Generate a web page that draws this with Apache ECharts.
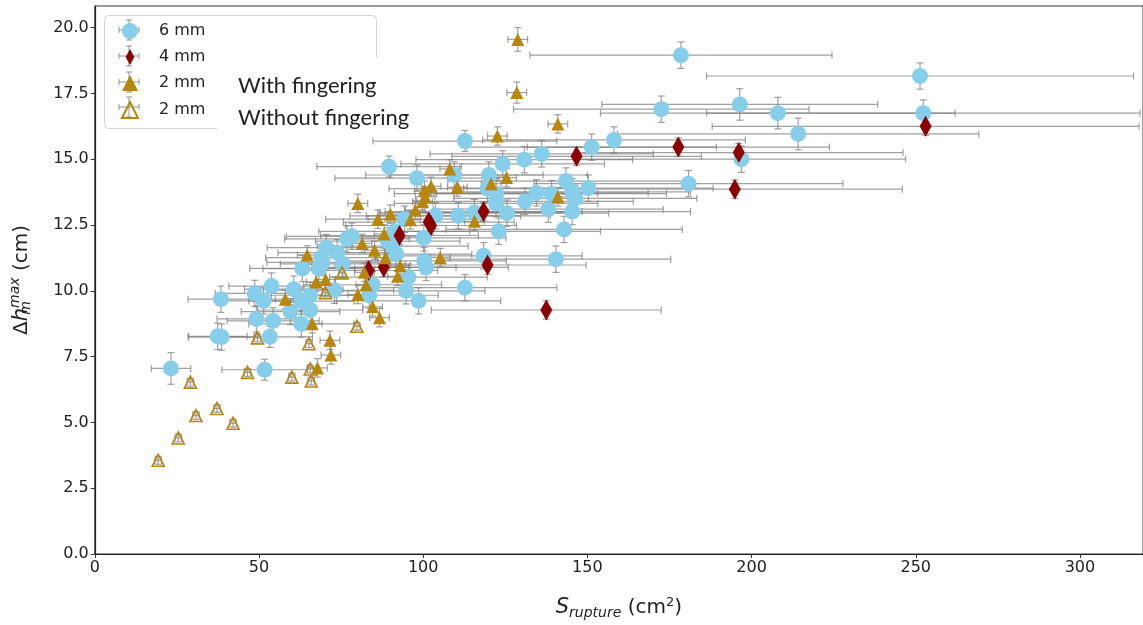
<!DOCTYPE html>
<html><head><meta charset="utf-8">
<script src="https://cdn.jsdelivr.net/npm/echarts@6/dist/echarts.min.js"></script>
<style>html,body{margin:0;padding:0;background:#fff}#c{width:1143px;height:625px}</style>
</head><body><div id="c"></div>
<script>
// 6 mm (blue circles)
const blueX = [23.2,51.7,37.4,38.6,53.3,49.2,54.3,62.9,59.6,65.6,38.4,51.4,48.7,62.9,60.6,65.6,53.8,73.0,63.2,68.2,69.4,69.0,75.5,73.8,70.5,76.8,78.3,83.6,84.6,89.2,90.7,91.8,91.2,94.3,100.2,100.3,100.9,95.5,94.8,98.6,103.7,110.7,115.6,112.7,118.4,123.0,125.5,122.2,122.2,119.6,89.6,98.1,109.5,120.0,124.2,130.8,136.1,112.7,131.0,134.5,139.1,138.1,145.4,145.4,146.3,143.5,150.3,142.9,140.4,151.3,158.1,172.5,178.5,180.8,196.4,196.9,208.0,214.2,251.3,252.3];
const blueY = [7.05,7.0,8.27,8.24,8.25,8.93,8.86,8.74,9.21,9.27,9.68,9.62,9.9,9.61,10.06,9.83,10.18,10.02,10.85,10.84,11.08,11.26,11.02,11.45,11.64,11.97,12.07,9.83,10.23,11.89,11.7,11.39,12.26,12.72,12.01,11.14,10.89,10.52,10.0,9.62,12.85,12.85,12.97,10.12,11.33,12.26,12.95,13.32,13.69,13.88,14.72,14.28,14.4,14.4,14.82,14.98,15.2,15.69,13.4,13.72,13.69,13.1,13.01,13.76,13.51,14.17,13.9,12.33,11.2,15.46,15.73,16.9,18.95,14.07,17.08,15.0,16.75,15.96,18.16,16.75];
const blueXErr = [6,13,9,10,13,12,14,16,15,16,10,13,12,16,15,16,13,18,16,17,17,17,19,18,18,19,20,21,21,22,23,23,23,24,25,25,25,24,24,25,26,28,29,28,30,31,31,31,31,30,22,25,27,30,31,33,34,28,33,34,35,35,36,36,37,36,38,36,35,38,40,45,46,47,42,50,54,55,65,66];
const blueYErr = [0.6,0.4,0.5,0.5,0.4,0.5,0.5,0.5,0.5,0.5,0.5,0.5,0.5,0.5,0.5,0.5,0.5,0.5,0.5,0.5,0.5,0.5,0.5,0.5,0.5,0.5,0.5,0.5,0.5,0.5,0.5,0.5,0.5,0.5,0.5,0.5,0.5,0.5,0.5,0.5,0.5,0.5,0.5,0.5,0.5,0.5,0.5,0.5,0.5,0.5,0.4,0.5,0.5,0.5,0.5,0.5,0.5,0.4,0.5,0.5,0.5,0.5,0.5,0.5,0.5,0.5,0.5,0.5,0.5,0.5,0.5,0.5,0.5,0.5,0.6,0.5,0.6,0.6,0.5,0.5];
// 4 mm (dark red diamonds)
const redX = [83.4,88.0,92.8,101.7,102.4,118.4,119.6,137.5,146.7,177.7,196.1,194.9,253.0];
const redY = [10.77,10.89,12.1,12.61,12.48,13.01,10.98,9.27,15.11,15.46,15.25,13.86,16.25];
const redXErr = [21,22,24,26,26,30,30,35,38,46,50,51,65];
const redYErr = [0.35,0.35,0.35,0.35,0.35,0.35,0.35,0.35,0.35,0.35,0.35,0.35,0.35];
// 2 mm with fingering (filled gold triangles)
const goldX = [128.8,128.5,141.0,122.6,108.1,125.4,120.7,110.4,141.0,102.4,100.4,100.6,99.8,97.6,96.1,90.0,86.2,88.1,115.6,80.1,81.4,85.2,88.5,105.2,82.1,93.0,92.2,82.6,80.1,84.6,86.7,64.7,67.4,70.3,58.0,66.2,71.6,71.9,67.8];
const goldY = [19.55,17.53,16.34,15.88,14.63,14.3,14.07,13.94,13.57,13.97,13.82,13.57,13.38,13.07,12.7,12.91,12.72,12.16,12.64,13.32,11.8,11.54,11.26,11.26,10.7,10.95,10.55,10.23,9.86,9.39,8.98,11.36,10.33,10.43,9.68,8.75,8.12,7.56,7.07];
const goldXErr = [3,3,3,3,3,3,3,3,3,3,3,3,3,3,3,3,3,3,3,3,3,3,3,3,3,3,3,3,3,3,3,3,3,3,3,3,3,3,3];
const goldYErr = [0.45,0.4,0.35,0.35,0.35,0.35,0.35,0.35,0.35,0.35,0.35,0.35,0.35,0.35,0.35,0.35,0.35,0.35,0.35,0.35,0.35,0.35,0.35,0.35,0.35,0.35,0.35,0.35,0.35,0.35,0.35,0.35,0.35,0.35,0.35,0.35,0.35,0.35,0.35];
// 2 mm without fingering (open triangles)
const openX = [19.3,25.4,30.8,37.2,42.1,29.1,46.5,60.0,65.9,65.6,49.5,65.2,79.8,70.2,75.3];
const openY = [3.56,4.41,5.26,5.53,4.97,6.53,6.9,6.72,6.57,7.03,8.21,7.99,8.65,9.93,10.68];
const openXErr = [1,1,1,1,1,1,1,1,1,1,1,1,1,1,1];
const openYErr = [0.15,0.15,0.15,0.15,0.15,0.15,0.15,0.15,0.15,0.15,0.15,0.15,0.15,0.15,0.15];

const xTicks = [0,50,100,150,200,250,300];
const yTicks = ['0.0','2.5','5.0','7.5','10.0','12.5','15.0','17.5','20.0'];
const legendNames = ['6 mm','4 mm','2 mm','2 mm '];
const noteTexts = ['With fingering','Without fingering'];

const pts = (xs, ys) => xs.map((x,i)=>[x, ys[i]]);
const errs = (xs, ys, xe, ye) => xs.map((x,i)=>[x, ys[i], xe[i], ye[i]]);

const EB = '#7d7d7d';
function errRender(params, api){
  const x = api.value(0), y = api.value(1), xe = api.value(2), ye = api.value(3);
  const l = api.coord([x-xe, y]), r = api.coord([x+xe, y]);
  const t = api.coord([x, y+ye]), b = api.coord([x, y-ye]);
  const st = {stroke: EB, lineWidth: 1.2, opacity: 0.72};
  const c = 3.5;
  const line = (x1,y1,x2,y2)=>({type:'line', shape:{x1,y1,x2,y2}, style: st});
  return {type:'group', children:[
    line(l[0],l[1],r[0],r[1]),
    line(l[0],l[1]-c,l[0],l[1]+c),
    line(r[0],r[1]-c,r[0],r[1]+c),
    line(t[0],t[1],b[0],b[1]),
    line(t[0]-c,t[1],t[0]+c,t[1]),
    line(b[0]-c,b[1],b[0]+c,b[1])
  ]};
}
function errSeries(name, data){
  return {name, type:'custom', renderItem: errRender, data, encode:{x:0,y:1}, clip:true, silent:true};
}

const BLUE = '#87ceeb', RED = '#8b0000', GOLD = '#b8860b';
const FONT = 'DejaVu Sans';

// legend cross decorations
const legendRows = [30,56,82,107];
const crossEls = [];
legendRows.forEach(yy=>{
  const cx = 129, s = {stroke: EB, lineWidth: 1.1, opacity: 0.75};
  crossEls.push({type:'line', z:3, shape:{x1:cx-10,y1:yy,x2:cx+10,y2:yy}, style:s});
  crossEls.push({type:'line', z:3, shape:{x1:cx,y1:yy-10,x2:cx,y2:yy+10}, style:s});
  crossEls.push({type:'line', z:3, shape:{x1:cx-10,y1:yy-3,x2:cx-10,y2:yy+3}, style:s});
  crossEls.push({type:'line', z:3, shape:{x1:cx+10,y1:yy-3,x2:cx+10,y2:yy+3}, style:s});
  crossEls.push({type:'line', z:3, shape:{x1:cx-3,y1:yy-10,x2:cx+3,y2:yy-10}, style:s});
  crossEls.push({type:'line', z:3, shape:{x1:cx-3,y1:yy+10,x2:cx+3,y2:yy+10}, style:s});
});

const chart = echarts.init(document.getElementById('c'), null, {renderer:'canvas'});
chart.setOption({
  animation:false,
  backgroundColor:'#fff',
  grid:{left:94.8, right:-2, top:6, bottom:62, show:true, borderColor:'#333', borderWidth:1, backgroundColor:'transparent'},
  xAxis:{type:'value', min:0, max:319.2, interval:50,
    axisLine:{show:true, onZero:false, lineStyle:{color:'#222', width:1.2}},
    axisTick:{show:true, length:4, inside:false, lineStyle:{color:'#333'}},
    splitLine:{show:false},
    axisLabel:{show:true, showMaxLabel:false, color:'#222', fontFamily:FONT, fontSize:16, margin:6,
      formatter:v=> xTicks.indexOf(v)>=0 ? String(v) : ''},
    name:'{i|S}{sub|rupture}{n| (cm}{sup|2}{n|)}', nameLocation:'middle', nameGap:40,
    nameTextStyle:{color:'#222', fontFamily:FONT, fontSize:20,
      rich:{
        i:{fontFamily:FONT, fontSize:21, fontStyle:'italic', color:'#222', lineHeight:28, verticalAlign:'middle'},
        sub:{fontFamily:FONT, fontSize:14, fontStyle:'italic', color:'#222', padding:[10,0,0,0], verticalAlign:'middle'},
        n:{fontFamily:FONT, fontSize:20, color:'#222', verticalAlign:'middle'},
        sup:{fontFamily:FONT, fontSize:13, color:'#222', padding:[0,0,10,0], verticalAlign:'middle'}
      }}
  },
  yAxis:{type:'value', min:0, max:20.82, interval:2.5,
    axisLine:{show:true, onZero:false, lineStyle:{color:'#222', width:1.2}},
    axisTick:{show:true, length:4, lineStyle:{color:'#333'}},
    splitLine:{show:false},
    axisLabel:{show:true, showMaxLabel:false, color:'#222', fontFamily:FONT, fontSize:16, margin:6,
      formatter:v=>{ const s=v.toFixed(1); return yTicks.indexOf(s)>=0 && Math.abs(v*2/5-Math.round(v*2/5))<1e-6 ? s : ''; }},
    name:'{d|Δ}{i|h}{sub|m}{sup|max}{n| (cm)}', nameLocation:'middle', nameGap:60,
    nameTextStyle:{color:'#222', fontFamily:FONT, fontSize:20,
      rich:{
        d:{fontFamily:FONT, fontSize:20, color:'#222', verticalAlign:'middle'},
        i:{fontFamily:FONT, fontSize:21, fontStyle:'italic', color:'#222', verticalAlign:'middle'},
        sub:{fontFamily:FONT, fontSize:14, fontStyle:'italic', color:'#222', padding:[10,0,0,0], verticalAlign:'middle', width:0},
        sup:{fontFamily:FONT, fontSize:14, fontStyle:'italic', color:'#222', padding:[0,0,12,0], verticalAlign:'middle'},
        n:{fontFamily:FONT, fontSize:20, color:'#222', verticalAlign:'middle'}
      }}
  },
  legend:{show:true, orient:'vertical', left:105, top:15, padding:[8,8,8,16],
    itemWidth:16, itemHeight:16, itemGap:10, z:4,
    backgroundColor:'transparent', borderWidth:0,
    data:[
      {name:legendNames[0], icon:'circle'},
      {name:legendNames[1], icon:'path://M0,-11L6,0L0,11L-6,0Z'},
      {name:legendNames[2], icon:'triangle'},
      {name:legendNames[3], icon:'triangle'}
    ],
    textStyle:{color:'#222', fontFamily:FONT, fontSize:16, padding:[0,0,0,16]}
  },
  graphic:[
    {type:'rect', z:1, shape:{x:104.5, y:15.5, width:272, height:113, r:4}, style:{fill:'none', stroke:'#d5d5d5', lineWidth:1}},
    ...crossEls,
    {type:'rect', z:10, shape:{x:217, y:58, width:226, height:78}, style:{fill:'#fff', stroke:'none'}},
    {type:'text', z:11, left:238, top:75, style:{text:noteTexts[0], fontFamily:'Lato', fontSize:22, fill:'#222'}},
    {type:'text', z:11, left:238, top:107, style:{text:noteTexts[1], fontFamily:'Lato', fontSize:22, fill:'#222'}}
  ],
  series:[
    errSeries('e6', errs(blueX, blueY, blueXErr, blueYErr)),
    {name:legendNames[0], type:'scatter', symbol:'circle', symbolSize:16, data:pts(blueX, blueY),
      itemStyle:{color:BLUE, opacity:1}},
    errSeries('e4', errs(redX, redY, redXErr, redYErr)),
    {name:legendNames[1], type:'scatter', symbol:'path://M0,-11L6,0L0,11L-6,0Z', symbolSize:[12,21], data:pts(redX, redY),
      itemStyle:{color:RED, opacity:1}},
    errSeries('e2f', errs(goldX, goldY, goldXErr, goldYErr)),
    {name:legendNames[2], type:'scatter', symbol:'triangle', symbolSize:[13,13], data:pts(goldX, goldY),
      itemStyle:{color:GOLD, opacity:1}},
    errSeries('e2o', errs(openX, openY, openXErr, openYErr)),
    {name:legendNames[3], type:'scatter', symbol:'triangle', symbolSize:[12,12], data:pts(openX, openY),
      itemStyle:{color:'rgba(255,255,255,0)', borderColor:GOLD, borderWidth:1.6, opacity:1}}
  ]
});
</script></body></html>
